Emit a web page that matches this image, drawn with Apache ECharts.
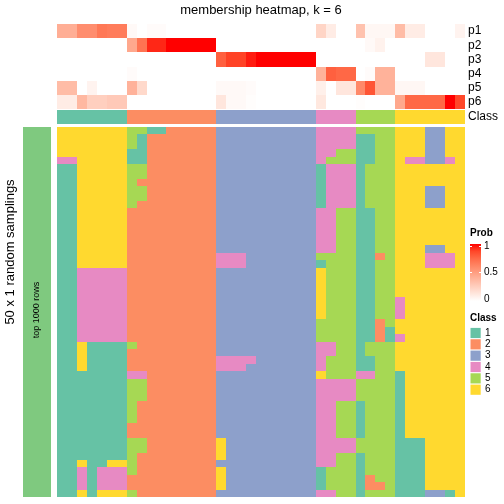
<!DOCTYPE html>
<html><head><meta charset="utf-8">
<script src="https://cdn.jsdelivr.net/npm/echarts/dist/echarts.min.js"></script>
<style>html,body{margin:0;padding:0;background:#fff}#c{width:504px;height:504px}</style>
</head><body><div id="c"></div>
<script>
// ---------- data ----------
const probRowNames = ['p1', 'p2', 'p3', 'p4', 'p5', 'p6'];
const classAnnoName = ['Class'];
const classLabels = ['1', '2', '3', '4', '5', '6'];
const probTickLabels = ['1', '0.5', '0'];

// consensus class of each of the 41 samples (columns)
const sampleClass = [1,1,1,1,1,1,1, 2,2,2,2,2,2,2,2,2, 3,3,3,3,3,3,3,3,3,3, 4,4,4,4, 5,5,5,5, 6,6,6,6,6,6,6];

// membership probabilities per sample
const p1 = [0.42,0.42,0.58,0.58,0.68,0.66,0.66, 0.03,0,0.02,0.02,0,0,0,0,0, 0,0,0,0,0,0,0,0,0,0, 0.22,0.1,0,0, 0.32,0.04,0.04,0.04, 0.35,0.1,0.1,0,0,0,0.06];
const p2 = [0,0,0,0,0,0,0, 0.45,0.7,0.93,0.93,1,1,1,1,1, 0,0,0,0,0,0,0,0,0,0, 0,0,0,0, 0,0.03,0.07,0, 0,0,0,0,0,0,0];
const p3 = [0,0,0,0,0,0,0, 0,0,0,0,0,0,0,0,0, 0.78,0.88,0.88,0.95,1,1,1,1,1,1, 0,0,0,0, 0,0,0,0, 0,0,0,0.13,0.13,0,0];
const p4 = [0,0,0,0,0,0,0, 0.02,0,0,0,0,0,0,0,0, 0,0,0,0,0,0,0,0,0,0, 0.4,0.78,0.75,0.75, 0,0.02,0.4,0.4, 0,0,0,0,0,0,0];
const p5 = [0.35,0.35,0,0.06,0,0,0, 0.4,0.2,0,0,0,0,0,0,0, 0.03,0.03,0.03,0.02,0,0,0,0,0,0, 0.08,0,0.13,0.13, 0.6,0.82,0.4,0.4, 0.04,0.04,0.04,0,0,0,0];
const p6 = [0.1,0.1,0.37,0.25,0.25,0.28,0.28, 0,0,0,0,0,0,0,0,0, 0.13,0.03,0.03,0.01,0,0,0,0,0,0, 0.12,0,0,0, 0.01,0,0,0, 0.45,0.75,0.75,0.75,0.75,1,0.87];

// class assigned in each of the 50 random samplings (one string per sample column, top to bottom)
const samplingColumns = [
  "66664 11111 11111 11111 11111 11111 11111 11111 11111 11111",
  "66664 11111 11111 11111 11111 11111 11111 11111 11111 11111",
  "66666 66666 66666 66664 44444 44446 66611 11111 11111 64446",
  "66666 66666 66666 66664 44444 44441 11111 11111 11111 11111",
  "66666 66666 66666 66664 44444 44441 11111 11111 11111 14446",
  "66666 66666 66666 66664 44444 44441 11111 11111 11111 64446",
  "66666 66666 66666 66664 44444 44441 11111 11111 11111 64446",
  "55511 55555 52222 22222 22222 22225 22245 55555 22555 55225",
  "51111 55255 22222 22222 22222 22222 22245 55222 22552 22222",
  "12222 22222 22222 22222 22222 22222 22222 22222 22222 22222",
  "12222 22222 22222 22222 22222 22222 22222 22222 22222 22222",
  "22222 22222 22222 22222 22222 22222 22222 22222 22222 22222",
  "22222 22222 22222 22222 22222 22222 22222 22222 22222 22222",
  "22222 22222 22222 22222 22222 22222 22222 22222 22222 22222",
  "22222 22222 22222 22222 22222 22222 22222 22222 22222 22222",
  "22222 22222 22222 22222 22222 22222 22222 22222 22222 22222",
  "33333 33333 33333 33443 33333 33333 34433 33333 33666 36663",
  "33333 33333 33333 33443 33333 33333 34433 33333 33333 33333",
  "33333 33333 33333 33443 33333 33333 34433 33333 33333 33333",
  "33333 33333 33333 33333 33333 33333 34333 33333 33333 33333",
  "33333 33333 33333 33333 33333 33333 33333 33333 33333 33333",
  "33333 33333 33333 33333 33333 33333 33333 33333 33333 33333",
  "33333 33333 33333 33333 33333 33333 33333 33333 33333 33333",
  "33333 33333 33333 33333 33333 33333 33333 33333 33333 33333",
  "33333 33333 33333 33333 33333 33333 33333 33333 33333 33333",
  "33333 33333 33333 33333 33333 33333 33333 33333 33333 33333",
  "44444 11111 14444 44516 66666 65554 44464 44444 44444 41114",
  "44445 44444 44444 44555 55555 55554 45554 44444 44444 45554",
  "44455 44444 45555 55555 55555 55555 55554 44555 55445 55555",
  "44455 44444 45555 55555 55555 55555 55554 44555 55445 55555",
  "51111 11111 11111 11111 11111 11111 11145 55111 11551 11111",
  "51111 55555 51111 11111 11111 11115 51145 55555 55555 55225",
  "55555 55555 55555 55255 55555 52225 55555 55555 55555 55525",
  "55555 55555 55555 55555 55555 55115 55555 55555 55555 55555",
  "66666 66666 66666 66666 66644 46646 66611 11111 11111 11111",
  "66664 66666 66666 66666 66666 66666 66666 66666 66111 11111",
  "66664 66666 66666 66666 66666 66666 66666 66666 66111 11111",
  "33333 66633 36666 63446 66666 66666 66666 66666 66666 66663",
  "33333 66633 36666 63446 66666 66666 66666 66666 66666 66663",
  "66664 66666 66666 66446 66666 66666 66666 66666 66666 66661",
  "66666 66666 66666 66666 66666 66666 66666 66666 66666 66666"
];
const rowAnnoName = ['top 1000 rows'];
const samplingTitle = '50 x 1 random samplings';
const chartTitle = 'membership heatmap, k = 6';

// ---------- styles ----------
const FONT = 'Liberation Sans, Arial, sans-serif';
const classColors = ['#66C2A5', '#FC8D62', '#8DA0CB', '#E78AC3', '#A6D854', '#FFD92F'];
const probColors = ['#FFFFFF','#FFE7DE','#FFCFBF','#FFB7A0','#FF9E81','#FF8463','#FF6846','#FF4628','#FF0000'];

// ---------- build series data ----------
const sampleIdx = sampleClass.map((_, i) => i);
const probs = [p1, p2, p3, p4, p5, p6];
const probData = [];
probs.forEach((arr, r) => arr.forEach((v, c) => probData.push([c, r, v])));
const classData = sampleClass.map((v, c) => [c, 0, v]);
const mainData = [];
let nRows = 0;
samplingColumns.forEach((s, c) => {
  const chars = s.replace(/\s/g, '').split('');
  nRows = chars.length;
  chars.forEach((ch, r) => mainData.push([c, r, +ch]));
});
const rowIdx = Array.from({length: nRows}, (_, i) => i);

const L = 57, W = 408;
const hiddenCat = (data, gi, extra) => Object.assign({type: 'category', data, gridIndex: gi, show: false}, extra || {});

// cell renderer: uses the axes' own scales, snaps edges to whole pixels so cells tile without seams
function cellRender(params, api) {
  const c = api.coord([api.value(0), api.value(1)]);
  const s = api.size([1, 1]);
  const x0 = Math.round(c[0] - s[0] / 2), x1 = Math.round(c[0] + s[0] / 2);
  const y0 = Math.round(c[1] - s[1] / 2), y1 = Math.round(c[1] + s[1] / 2);
  const col = api.visual('color');
  return {type: 'rect', shape: {x: x0, y: y0, width: x1 - x0, height: y1 - y0},
          style: {fill: col, stroke: null}, silent: true};
}
const cellSeries = (xi, yi, data) => ({
  type: 'custom', xAxisIndex: xi, yAxisIndex: yi, data, renderItem: cellRender,
  encode: {x: 0, y: 1}, silent: true, z: 2
});

const chart = echarts.init(document.getElementById('c'), null, {renderer: 'canvas'});
const legendGradient = new echarts.graphic.LinearGradient(0, 0, 0, 1,
  probColors.slice().reverse().map((c, i) => ({offset: i / (probColors.length - 1), color: c})));

const graphics = [
  {type: 'text', x: 261, y: 10, style: {text: chartTitle, font: '13px ' + FONT, fill: '#000', textAlign: 'center', textVerticalAlign: 'middle'}},
  {type: 'text', x: 10, y: 252, rotation: Math.PI / 2, style: {text: samplingTitle, font: '13px ' + FONT, fill: '#000', textAlign: 'center', textVerticalAlign: 'middle'}},
  {type: 'text', x: 37, y: 310, rotation: Math.PI / 2, style: {text: rowAnnoName[0], font: '9px ' + FONT, fill: '#000', textAlign: 'center', textVerticalAlign: 'middle'}},
  // Prob legend
  {type: 'text', x: 470, y: 233, style: {text: 'Prob', font: 'bold 10px ' + FONT, fill: '#000', textAlign: 'left', textVerticalAlign: 'middle'}},
  {type: 'rect', shape: {x: 470, y: 244, width: 11, height: 57}, style: {fill: legendGradient}},
  {type: 'text', x: 484, y: 246, style: {text: probTickLabels[0], font: '10px ' + FONT, fill: '#000', textVerticalAlign: 'middle'}},
  {type: 'text', x: 484, y: 272.5, style: {text: probTickLabels[1], font: '10px ' + FONT, fill: '#000', textVerticalAlign: 'middle'}},
  {type: 'text', x: 484, y: 299, style: {text: probTickLabels[2], font: '10px ' + FONT, fill: '#000', textVerticalAlign: 'middle'}},
  {type: 'line', shape: {x1: 470, y1: 246.5, x2: 472, y2: 246.5}, style: {stroke: '#fff', lineWidth: 1}},
  {type: 'line', shape: {x1: 479, y1: 246.5, x2: 481, y2: 246.5}, style: {stroke: '#fff', lineWidth: 1}},
  {type: 'line', shape: {x1: 470, y1: 272.5, x2: 472, y2: 272.5}, style: {stroke: '#fff', lineWidth: 1}},
  {type: 'line', shape: {x1: 479, y1: 272.5, x2: 481, y2: 272.5}, style: {stroke: '#fff', lineWidth: 1}},
  // Class legend
  {type: 'text', x: 470, y: 318, style: {text: 'Class', font: 'bold 10px ' + FONT, fill: '#000', textAlign: 'left', textVerticalAlign: 'middle'}}
];
classLabels.forEach((lab, i) => {
  const y = 327.3 + 11.34 * i;
  graphics.push({type: 'rect', shape: {x: 470.5, y: y + 0.6, width: 10.2, height: 10.2}, style: {fill: classColors[i]}});
  graphics.push({type: 'text', x: 485, y: y + 5.7, style: {text: lab, font: '10px ' + FONT, fill: '#000', textVerticalAlign: 'middle'}});
});
graphics.forEach(g => { g.z = 100; g.silent = true; });

const rightLabelAxis = (data, gi) => ({
  type: 'category', data, gridIndex: gi, inverse: true, position: 'right',
  axisLine: {show: false}, axisTick: {show: false}, splitLine: {show: false},
  axisLabel: {show: true, interval: 0, margin: 3, fontSize: 12, fontFamily: FONT, color: '#000'}
});

chart.setOption({
  animation: false,
  backgroundColor: '#fff',
  grid: [
    {left: L, top: 24, width: W, height: 85},
    {left: L, top: 110, width: W, height: 14},
    {left: L, top: 127, width: W, height: 370},
    {left: 23, top: 127, width: 28, height: 370}
  ],
  xAxis: [
    hiddenCat(sampleIdx, 0), hiddenCat(sampleIdx, 1), hiddenCat(sampleIdx, 2), hiddenCat([0], 3)
  ],
  yAxis: [
    rightLabelAxis(probRowNames, 0),
    rightLabelAxis(classAnnoName, 1),
    hiddenCat(rowIdx, 2, {inverse: true}),
    hiddenCat([0], 3)
  ],
  visualMap: [
    {type: 'continuous', show: false, seriesIndex: 0, dimension: 2, min: 0, max: 1, inRange: {color: probColors}},
    {type: 'piecewise', show: false, seriesIndex: [1, 2], dimension: 2, pieces: classLabels.map((l, i) => ({value: i + 1, color: classColors[i]}))},
    {type: 'piecewise', show: false, seriesIndex: 3, dimension: 2, pieces: [{value: 1, color: '#7FC97F'}]}
  ],
  series: [
    cellSeries(0, 0, probData),
    cellSeries(1, 1, classData),
    cellSeries(2, 2, mainData),
    cellSeries(3, 3, [[0, 0, 1]])
  ],
  graphic: {elements: graphics}
});
</script></body></html>
